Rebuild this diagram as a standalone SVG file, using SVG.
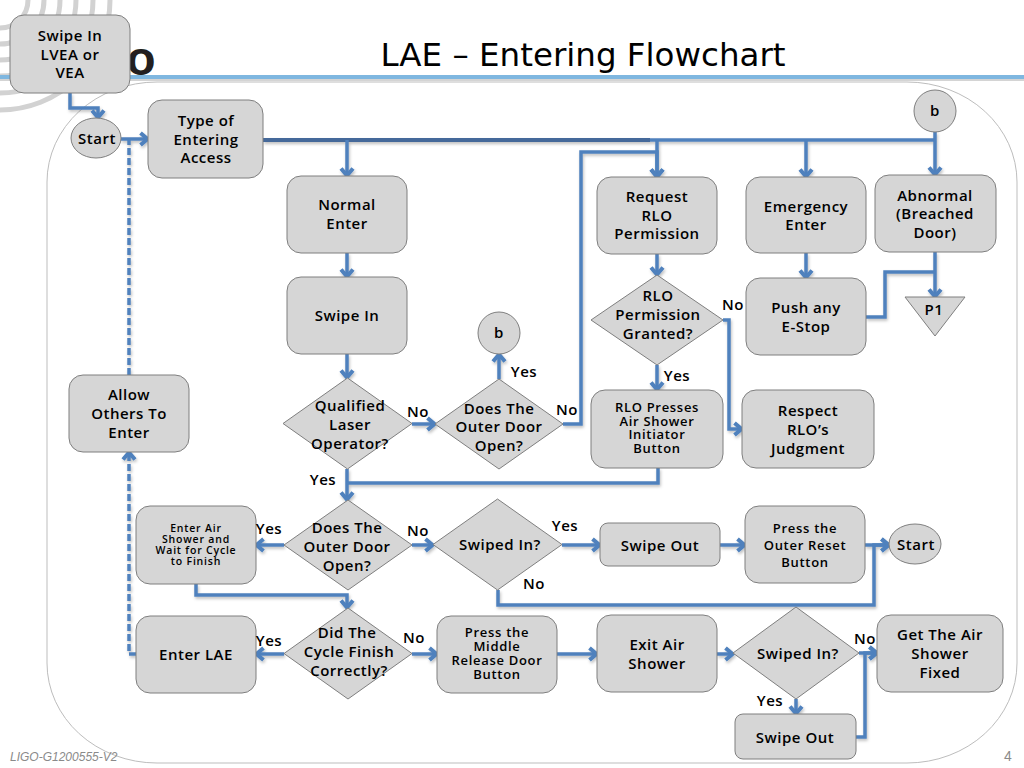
<svg xmlns="http://www.w3.org/2000/svg" width="1024" height="768" viewBox="0 0 1024 768">
<style>
.s{fill:#d6d6d6;stroke:#7f7f7f;stroke-width:1}
text{font-family:"Open Sans","Noto Sans",sans-serif;font-weight:600;fill:#000;text-anchor:middle;font-size:15px;letter-spacing:.5px}
.sm{font-size:13px;letter-spacing:.7px}
.xs{font-size:10.500px;letter-spacing:.8px}
.c{fill:none;stroke:#4f81bd;stroke-width:3.500;stroke-linejoin:miter}
.a{marker-end:url(#ah)}
.d{stroke-dasharray:7 3}
.dk{stroke:#44699a;stroke-width:4}
.l{fill:none;stroke:#d2d2d2;stroke-width:5}
</style>
<defs>
<marker id="ah" markerUnits="userSpaceOnUse" viewBox="0 0 16 16" refX="14" refY="8" markerWidth="16" markerHeight="16" orient="auto"><path d="M6.500 2L13.500 8L6.500 14" fill="none" stroke="#4f81bd" stroke-width="4"/></marker>
<filter id="sh" x="-5%" y="-5%" width="110%" height="110%"><feDropShadow dx="1" dy="2" stdDeviation="1.500" flood-color="#000" flood-opacity=".25"/></filter>
</defs>
<rect width="1024" height="768" fill="#fff"/>
<g id="logo">
<circle class="l" cx="0" cy="0" r="28"/><circle class="l" cx="0" cy="0" r="44"/><circle class="l" cx="0" cy="0" r="60"/><circle class="l" cx="0" cy="0" r="76"/><circle class="l" cx="0" cy="0" r="93"/><circle class="l" cx="0" cy="0" r="110"/>
<text x="141" y="75" style="font-family:'Liberation Sans',sans-serif;font-weight:700;font-size:48px;fill:#231f20;letter-spacing:0">o</text>
</g>
<g id="header">
<rect x="0" y="75" width="1024" height="4" fill="#7fb7e0"/><rect x="0" y="79" width="1024" height="2" fill="#d4d4d4"/>
<text x="583" y="66" style="font-family:'DejaVu Sans',sans-serif;font-weight:400;font-size:32.500px;letter-spacing:0">LAE – Entering Flowchart</text>
</g>
<rect id="panel" x="47" y="82" width="970" height="681" rx="110" ry="100" fill="none" stroke="#bdbdbd" stroke-width="1"/>
<g id="connectors" filter="url(#sh)">
<path class="c a" d="M70 93V108H98V118"/>
<path class="c a" d="M121 139H148"/>
<path class="c a d" d="M136 654H129V452"/>
<path class="c d" d="M129 375V140"/>
<path class="c dk" d="M263 140H650"/>
<path class="c" d="M650 140H935"/>
<path class="c a" d="M347 140V176"/>
<path class="c a" d="M657 140V177"/>
<path class="c a" d="M806 140V177"/>
<path class="c a" d="M935 132V175"/>
<path class="c a" d="M347 253V277"/>
<path class="c a" d="M347 354V378"/>
<path class="c a" d="M412 424H435"/>
<path class="c a" d="M499 379V354"/>
<path class="c a" d="M563 424H581V152H657V177"/>
<path class="c a" d="M657 254V275"/>
<path class="c a" d="M657 365V390"/>
<path class="c a" d="M723 320H729V429H742"/>
<path class="c a" d="M806 253V278"/>
<path class="c a" d="M935 252V297"/>
<path class="c" d="M866 317H885V272H935"/>
<path class="c a" d="M347 469V500"/>
<path class="c" d="M658 468V483H347"/>
<path class="c a" d="M284 545H256"/>
<path class="c a" d="M412 545H433"/>
<path class="c a" d="M562 545H600"/>
<path class="c a" d="M498 590V605H874V545H889"/>
<path class="c a" d="M720 545H745"/>
<path class="c a" d="M865 545H889"/>
<path class="c a" d="M196 584V595H347V608"/>
<path class="c a" d="M284 654H256"/>
<path class="c a" d="M412 654H437"/>
<path class="c a" d="M557 654H597"/>
<path class="c a" d="M717 654H733"/>
<path class="c a" d="M859 653H877"/>
<path class="c a" d="M796 699V714"/>
<path class="c a" d="M856 737H865V653H877"/>
</g>
<g id="n1"><rect class="s" x="10" y="15" width="120" height="78" rx="14"/><text x="70" y="41">Swipe In</text><text x="70" y="60">LVEA or</text><text x="70" y="78">VEA</text></g>
<g id="n2"><ellipse class="s" cx="96" cy="138" rx="25" ry="20"/><text x="97" y="144">Start</text></g>
<g id="n3"><rect class="s" x="148" y="100" width="115" height="78" rx="14"/><text x="206" y="126">Type of</text><text x="206" y="145">Entering</text><text x="206" y="163">Access</text></g>
<g id="n4"><circle class="s" cx="935" cy="111" r="21"/><text x="935" y="116">b</text></g>
<g id="n5"><rect class="s" x="287" y="176" width="120" height="77" rx="14"/><text x="347" y="210">Normal</text><text x="347" y="229">Enter</text></g>
<g id="n6"><rect class="s" x="287" y="277" width="120" height="77" rx="14"/><text x="347" y="321">Swipe In</text></g>
<g id="n7"><rect class="s" x="597" y="177" width="120" height="77" rx="14"/><text x="657" y="202">Request</text><text x="657" y="221">RLO</text><text x="657" y="239">Permission</text></g>
<g id="n8"><rect class="s" x="746" y="177" width="120" height="76" rx="14"/><text x="806" y="212">Emergency</text><text x="806" y="230">Enter</text></g>
<g id="n9"><rect class="s" x="875" y="175" width="121" height="77" rx="14"/><text x="935" y="201">Abnormal</text><text x="935" y="219">(Breached</text><text x="935" y="238">Door)</text></g>
<g id="n10"><rect class="s" x="746" y="278" width="120" height="77" rx="14"/><text x="806" y="313">Push any</text><text x="806" y="332">E-Stop</text></g>
<g id="n11"><path class="s" d="M905 297H965L935 336Z"/><text x="934" y="315">P1</text></g>
<g id="n12"><path class="s" d="M657 275L723 320L657 365L591 320Z"/><text x="658" y="301">RLO</text><text x="658" y="320">Permission</text><text x="658" y="339">Granted?</text></g>
<g id="n13"><circle class="s" cx="499" cy="333" r="21"/><text x="499" y="338">b</text></g>
<g id="n14"><path class="s" d="M347.500 378L412 423.500L347.500 469L283 423.500Z"/><text x="350" y="411">Qualified</text><text x="350" y="430">Laser</text><text x="350" y="449">Operator?</text></g>
<g id="n15"><path class="s" d="M499 379L563 424L499 469L435 424Z"/><text x="499" y="414">Does The</text><text x="499" y="432">Outer Door</text><text x="499" y="451">Open?</text></g>
<g id="n16"><rect class="s" x="591" y="390" width="132" height="78" rx="14"/><text class="sm" x="657" y="412">RLO Presses</text><text class="sm" x="657" y="426">Air Shower</text><text class="sm" x="657" y="439">Initiator</text><text class="sm" x="657" y="453">Button</text></g>
<g id="n17"><rect class="s" x="742" y="390" width="132" height="78" rx="14"/><text x="808" y="416">Respect</text><text x="808" y="435">RLO’s</text><text x="808" y="454">Judgment</text></g>
<g id="n18"><rect class="s" x="69" y="375" width="120" height="77" rx="14"/><text x="129" y="400">Allow</text><text x="129" y="419">Others To</text><text x="129" y="438">Enter</text></g>
<g id="n19"><rect class="s" x="136" y="506" width="120" height="78" rx="14"/><text class="xs" x="196" y="532">Enter Air</text><text class="xs" x="196" y="543">Shower and</text><text class="xs" x="196" y="554">Wait for Cycle</text><text class="xs" x="196" y="565">to Finish</text></g>
<g id="n20"><path class="s" d="M348 500L412 545L348 590L284 545Z"/><text x="347" y="533">Does The</text><text x="347" y="552">Outer Door</text><text x="347" y="571">Open?</text></g>
<g id="n21"><path class="s" d="M497.500 499L562 544.500L497.500 590L433 544.500Z"/><text x="500" y="550">Swiped In?</text></g>
<g id="n22"><rect class="s" x="600" y="523" width="120" height="43" rx="8"/><text x="660" y="551">Swipe Out</text></g>
<g id="n23"><rect class="s" x="745" y="506" width="120" height="77" rx="14"/><text class="sm" x="805" y="533">Press the</text><text class="sm" x="805" y="550">Outer Reset</text><text class="sm" x="805" y="567">Button</text></g>
<g id="n24"><ellipse class="s" cx="915" cy="544" rx="26" ry="20"/><text x="916" y="550">Start</text></g>
<g id="n25"><path class="s" d="M348 608L412 653.500L348 699L284 653.500Z"/><text x="347" y="638">Did The</text><text x="349" y="657">Cycle Finish</text><text x="349" y="676">Correctly?</text></g>
<g id="n26"><rect class="s" x="136" y="616" width="120" height="77" rx="14"/><text x="196" y="660">Enter LAE</text></g>
<g id="n27"><rect class="s" x="437" y="616" width="120" height="77" rx="14"/><text class="sm" x="497" y="637">Press the</text><text class="sm" x="497" y="651">Middle</text><text class="sm" x="497" y="665">Release Door</text><text class="sm" x="497" y="679">Button</text></g>
<g id="n28"><rect class="s" x="597" y="615" width="120" height="77" rx="14"/><text x="657" y="650">Exit Air</text><text x="657" y="669">Shower</text></g>
<g id="n29"><path class="s" d="M796 607L859 653L796 699L733 653Z"/><text x="798" y="659">Swiped In?</text></g>
<g id="n30"><rect class="s" x="877" y="615" width="126" height="77" rx="14"/><text x="940" y="640">Get The Air</text><text x="940" y="659">Shower</text><text x="940" y="678">Fixed</text></g>
<g id="n31"><rect class="s" x="735" y="714" width="121" height="45" rx="8"/><text x="795" y="743">Swipe Out</text></g>
<g id="labels">
<text x="418" y="417">No</text><text x="567" y="415">No</text><text x="524" y="377">Yes</text><text x="323" y="485">Yes</text><text x="418" y="536">No</text><text x="269" y="534">Yes</text><text x="565" y="531">Yes</text><text x="534" y="589">No</text><text x="733" y="310">No</text><text x="677" y="381">Yes</text><text x="269" y="646">Yes</text><text x="414" y="643">No</text><text x="865" y="644">No</text><text x="770" y="706">Yes</text>
</g>
<g id="footer">
<text x="10" y="761" style="font-family:'Liberation Sans',sans-serif;font-weight:400;font-style:italic;font-size:12px;fill:#8a8a8a;text-anchor:start;letter-spacing:0">LIGO-G1200555-V2</text>
<text x="1008" y="761" style="font-family:'Liberation Sans',sans-serif;font-weight:400;font-size:14px;fill:#8a8a8a;letter-spacing:0">4</text>
</g>
</svg>
